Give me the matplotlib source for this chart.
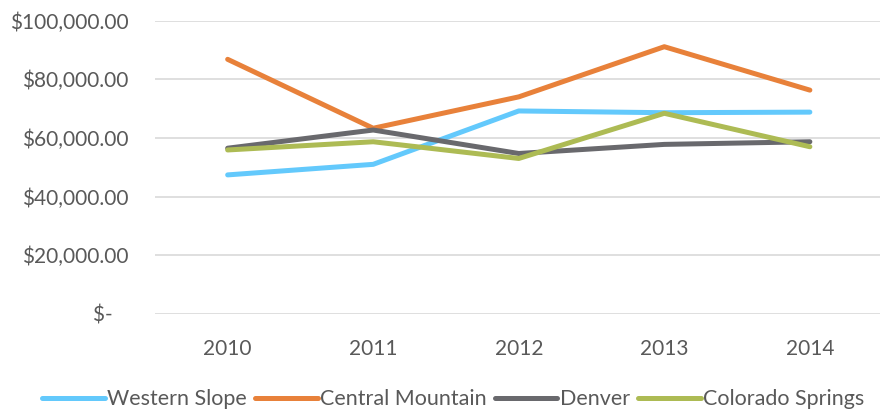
import matplotlib
matplotlib.use("Agg")
import matplotlib.pyplot as plt
from matplotlib.ticker import FuncFormatter

years = ["2010", "2011", "2012", "2013", "2014"]
western_slope = [47400, 51000, 69200, 68600, 68800]
central_mountain = [86800, 63300, 74000, 91100, 76300]
denver = [56500, 62700, 54700, 57800, 58700]
colorado_springs = [55900, 58700, 53000, 68400, 57000]

series = [
    ("Western Slope", western_slope, "#63C9FC"),
    ("Central Mountain", central_mountain, "#E8813A"),
    ("Denver", denver, "#69696D"),
    ("Colorado Springs", colorado_springs, "#ADBB54"),
]

plt.rcParams["font.family"] = ["Lato", "DejaVu Sans"]

fig = plt.figure(figsize=(8.8, 4.12), dpi=100)
ax = fig.add_axes([0.176, 0.238, 0.827, 0.712])

x = range(len(years))
for name, vals, col in series:
    ax.plot(x, vals, color=col, linewidth=3.6, label=name, solid_capstyle="round", solid_joinstyle="round")


def money(v, pos):
    if v == 0:
        return "$-   "
    return "${:,.2f}".format(v)


ax.set_ylim(0, 100000)
ax.set_xlim(-0.5, 4.5)
ax.set_yticks(range(0, 100001, 20000))
ax.yaxis.set_major_formatter(FuncFormatter(money))
ax.set_xticks(list(x))
ax.set_xticklabels(years)
ax.grid(axis="y", color="#D9D9D9", linewidth=1.2)
ax.set_axisbelow(True)
for s in ax.spines.values():
    s.set_visible(False)
ax.tick_params(axis="y", length=0, pad=19, labelsize=15, labelcolor="#595959")
ax.tick_params(axis="x", length=0, pad=18, labelsize=15, labelcolor="#595959")

fig.legend(loc="lower center", bbox_to_anchor=(0.515, -0.04), ncol=4, frameon=False,
           fontsize=15.5, handlelength=2.9, handletextpad=0.1, columnspacing=0.4,
           labelcolor="#595959")

fig.savefig("out.png", dpi=100)
